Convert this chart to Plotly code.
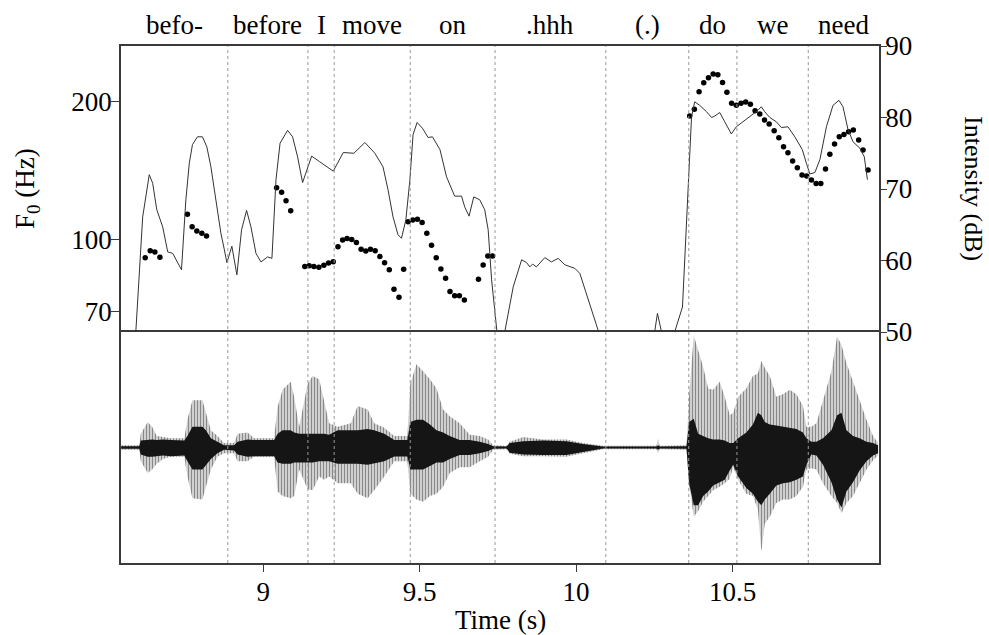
import math
import plotly.graph_objects as go

# word tier: boundaries (s) and labels
bounds = [8.5457, 8.887, 9.143, 9.227, 9.470, 9.741, 10.095, 10.360, 10.514, 10.742, 10.968]
words = ["befo-", "before", "I", "move", "on", ".hhh", "(.)", "do", "we", "need"]

# intensity contour (dB)
int_t = [8.575, 8.593, 8.615, 8.636, 8.647, 8.660, 8.679, 8.695, 8.711, 8.721,
         8.739, 8.753, 8.764, 8.774, 8.790, 8.806, 8.820, 8.833, 8.849, 8.865,
         8.876, 8.884, 8.900, 8.916, 8.931, 8.947, 8.961, 8.977, 8.993, 9.014,
         9.028, 9.041, 9.054, 9.078, 9.094, 9.110, 9.126, 9.136, 9.155, 9.181,
         9.208, 9.224, 9.256, 9.290, 9.325, 9.357, 9.383, 9.399, 9.415, 9.431,
         9.442, 9.456, 9.469, 9.479, 9.492, 9.509, 9.527, 9.541, 9.565, 9.586,
         9.612, 9.634, 9.644, 9.658, 9.673, 9.692, 9.708, 9.719, 9.730, 9.746,
         9.759, 9.772, 9.799, 9.826, 9.842, 9.852, 9.861, 9.873, 9.900, 9.921,
         9.943, 9.964, 9.996, 10.012, 10.044, 10.070, 10.160, 10.251, 10.260, 10.273,
         10.290, 10.315, 10.340, 10.355, 10.369, 10.379, 10.395, 10.417, 10.433, 10.443,
         10.459, 10.475, 10.496, 10.512, 10.534, 10.560, 10.581, 10.592, 10.603, 10.619,
         10.640, 10.656, 10.677, 10.699, 10.723, 10.736, 10.747, 10.763, 10.779, 10.800,
         10.821, 10.840, 10.853, 10.869, 10.885, 10.907, 10.921, 10.931]
int_db = [40, 50, 66.1, 72.0, 70.8, 67.1, 64.7, 61.2, 61.0, 60.1,
          58.7, 68.5, 73.6, 76.2, 77.3, 77.3, 75.9, 73.1, 68.5, 63.8,
          61.5, 59.7, 62.0, 58.0, 64.3, 67.0, 64.7, 61.0, 59.8, 60.5,
          60.3, 71.3, 76.4, 78.2, 77.3, 74.5, 70.9, 72.2, 74.6, 73.8,
          72.9, 72.5, 75.1, 75.0, 76.5, 75.0, 73.1, 69.9, 66.1, 63.6,
          63.1, 65.7, 71.3, 77.6, 79.3, 78.5, 77.2, 77.3, 75.5, 71.7,
          69.0, 69.0, 67.5, 66.2, 68.9, 68.5, 67.1, 64.3, 57.3, 50.3,
          45, 50, 56.3, 60.1, 59.7, 59.1, 59.5, 59.1, 60.4, 59.8,
          60.3, 59.4, 58.9, 58.2, 54.0, 50.3, 40, 50, 52.6, 50,
          45, 50, 53.5, 67.5, 80.1, 82.2, 81.7, 80.8, 80.0, 80.2,
          80.7, 79.4, 77.7, 78.7, 79.4, 80.3, 81.0, 81.5, 80.8, 80.0,
          79.4, 78.6, 78.7, 77.3, 75.5, 73.6, 72.1, 72.3, 74.1, 78.7,
          81.7, 82.4, 81.5, 78.3, 76.6, 75.7, 74.5, 71.3]

# pitch points (Hz)
f0_t = [8.623, 8.639, 8.654, 8.670, 8.758, 8.773, 8.788, 8.804, 8.819,
        9.043, 9.059, 9.073, 9.088, 9.133, 9.147, 9.162, 9.178, 9.194, 9.209, 9.224,
        9.239, 9.254, 9.268, 9.283, 9.298, 9.313, 9.328, 9.343, 9.358, 9.373,
        9.388, 9.403, 9.418, 9.434, 9.449, 9.463, 9.478, 9.493, 9.508, 9.523,
        9.538, 9.553, 9.568, 9.583, 9.597, 9.612, 9.627, 9.643, 9.688, 9.703,
        9.718, 9.733,
        10.363, 10.378, 10.393, 10.408, 10.423, 10.438, 10.453, 10.468, 10.482, 10.497,
        10.512, 10.527, 10.542, 10.557, 10.572, 10.587, 10.602, 10.617, 10.633, 10.648,
        10.663, 10.677, 10.692, 10.707, 10.722, 10.737, 10.752, 10.767, 10.782, 10.797,
        10.811, 10.826, 10.841, 10.856, 10.871, 10.886, 10.903, 10.917, 10.933]
f0_hz = [91.5, 94.8, 94.2, 91.7, 113.8, 106.9, 104.6, 103.4, 102.0,
         130.0, 127.0, 121.8, 115.8, 87.5, 87.9, 87.5, 87.2, 88.1, 89.1, 89.7,
         96.7, 100.0, 100.8, 100.3, 98.7, 95.4, 94.6, 95.4, 94.8, 92.0,
         89.2, 86.1, 78.1, 75.0, 86.3, 109.6, 110.5, 110.9, 109.1, 103.4,
         97.4, 91.5, 86.5, 82.5, 77.2, 75.6, 75.6, 74.0, 82.1, 88.2,
         92.3, 92.3,
         186.2, 192.5, 210.3, 219.9, 225.6, 229.8, 229.0, 220.3, 209.7, 198.4,
         196.4, 198.4, 199.7, 197.4, 191.2, 188.0, 182.5, 178.9, 172.9, 167.0,
         159.6, 154.8, 148.6, 143.6, 138.5, 137.8, 135.1, 132.8, 132.8, 142.7,
         153.7, 161.8, 167.8, 169.6, 172.0, 173.5, 165.1, 157.0, 142.0]

# waveform envelope (outer peaks and dense core), relative amplitude
wave_t = [8.546, 8.604, 8.609, 8.631, 8.645, 8.660, 8.680, 8.705, 8.748, 8.758,
          8.774, 8.806, 8.817, 8.833, 8.854, 8.875, 8.907, 8.918, 8.950, 8.971,
          9.035, 9.046, 9.062, 9.088, 9.099, 9.115, 9.142, 9.158, 9.179, 9.195,
          9.211, 9.238, 9.280, 9.302, 9.334, 9.355, 9.387, 9.419, 9.461, 9.470,
          9.490, 9.511, 9.533, 9.554, 9.575, 9.596, 9.628, 9.660, 9.692, 9.719,
          9.735, 9.778, 9.788, 9.831, 9.895, 9.969, 10.022, 10.086, 10.257, 10.262,
          10.267, 10.353, 10.361, 10.376, 10.390, 10.406, 10.422, 10.438, 10.459, 10.475,
          10.491, 10.502, 10.518, 10.544, 10.565, 10.581, 10.592, 10.603, 10.619, 10.640,
          10.661, 10.683, 10.704, 10.725, 10.736, 10.752, 10.768, 10.789, 10.816, 10.834,
          10.848, 10.864, 10.885, 10.906, 10.928, 10.949, 10.965]
wave_hi = [0.02, 0.02, 0.12, 0.22, 0.18, 0.10, 0.09, 0.08, 0.08, 0.24,
           0.41, 0.41, 0.30, 0.15, 0.10, 0.04, 0.04, 0.12, 0.13, 0.08,
           0.08, 0.35, 0.50, 0.57, 0.44, 0.18, 0.55, 0.62, 0.59, 0.41,
           0.21, 0.18, 0.21, 0.36, 0.33, 0.21, 0.17, 0.10, 0.10, 0.55,
           0.72, 0.66, 0.59, 0.51, 0.33, 0.27, 0.21, 0.11, 0.10, 0.07,
           0.02, 0.015, 0.05, 0.09, 0.07, 0.07, 0.04, 0.015, 0.015, 0.08,
           0.015, 0.02, 0.44, 0.97, 0.85, 0.70, 0.51, 0.50, 0.57, 0.44,
           0.28, 0.30, 0.44, 0.51, 0.62, 0.64, 0.75, 0.69, 0.62, 0.44,
           0.46, 0.50, 0.46, 0.36, 0.18, 0.18, 0.21, 0.41, 0.66, 0.96,
           0.89, 0.73, 0.56, 0.41, 0.24, 0.10, 0.04]
wave_lo = [-0.02, -0.02, -0.12, -0.22, -0.19, -0.14, -0.10, -0.08, -0.08, -0.25,
           -0.44, -0.45, -0.34, -0.19, -0.08, -0.05, -0.05, -0.12, -0.12, -0.08,
           -0.08, -0.38, -0.42, -0.44, -0.42, -0.19, -0.36, -0.37, -0.25, -0.28,
           -0.25, -0.31, -0.31, -0.40, -0.44, -0.37, -0.25, -0.12, -0.12, -0.40,
           -0.45, -0.47, -0.42, -0.40, -0.34, -0.22, -0.17, -0.17, -0.12, -0.08,
           -0.02, -0.015, -0.055, -0.075, -0.075, -0.08, -0.05, -0.015, -0.015, -0.05,
           -0.015, -0.02, -0.31, -0.60, -0.55, -0.47, -0.42, -0.37, -0.34, -0.31,
           -0.27, -0.17, -0.28, -0.40, -0.42, -0.54, -0.90, -0.66, -0.60, -0.48,
           -0.45, -0.45, -0.42, -0.34, -0.19, -0.18, -0.19, -0.31, -0.42, -0.48,
           -0.57, -0.48, -0.42, -0.31, -0.19, -0.11, -0.07]
core_hi = [0.01, 0.01, 0.06, 0.07, 0.07, 0.066, 0.07, 0.066, 0.06, 0.10,
           0.18, 0.18, 0.15, 0.08, 0.05, 0.02, 0.02, 0.05, 0.07, 0.066,
           0.066, 0.12, 0.15, 0.15, 0.13, 0.12, 0.12, 0.12, 0.12, 0.12,
           0.11, 0.15, 0.15, 0.15, 0.16, 0.15, 0.12, 0.066, 0.066, 0.22,
           0.24, 0.24, 0.20, 0.15, 0.13, 0.10, 0.066, 0.066, 0.05, 0.03,
           0.01, 0.008, 0.04, 0.055, 0.06, 0.055, 0.03, 0.008, 0.008, 0.02,
           0.008, 0.01, 0.22, 0.25, 0.12, 0.10, 0.08, 0.07, 0.07, 0.06,
           0.04, 0.04, 0.08, 0.13, 0.20, 0.30, 0.28, 0.22, 0.20, 0.19,
           0.18, 0.17, 0.16, 0.13, 0.08, 0.05, 0.05, 0.08, 0.15, 0.28,
           0.30, 0.15, 0.10, 0.08, 0.05, 0.04, 0.02]
core_lo = [-0.01, -0.01, -0.06, -0.08, -0.08, -0.078, -0.07, -0.075, -0.07, -0.12,
           -0.19, -0.19, -0.15, -0.10, -0.05, -0.02, -0.025, -0.06, -0.08, -0.075,
           -0.075, -0.13, -0.14, -0.14, -0.13, -0.13, -0.13, -0.13, -0.12, -0.12,
           -0.12, -0.14, -0.14, -0.14, -0.15, -0.14, -0.12, -0.078, -0.078, -0.19,
           -0.19, -0.19, -0.16, -0.13, -0.13, -0.10, -0.064, -0.064, -0.05, -0.03,
           -0.01, -0.008, -0.045, -0.06, -0.065, -0.065, -0.04, -0.008, -0.008, -0.02,
           -0.008, -0.01, -0.31, -0.50, -0.50, -0.42, -0.38, -0.33, -0.30, -0.28,
           -0.20, -0.15, -0.25, -0.35, -0.40, -0.47, -0.50, -0.45, -0.40, -0.33,
           -0.31, -0.30, -0.28, -0.25, -0.15, -0.06, -0.07, -0.15, -0.30, -0.45,
           -0.52, -0.38, -0.30, -0.20, -0.12, -0.07, -0.05]

serif = "Liberation Serif, Times New Roman, serif"
frame = "#3a3a3a"
split = 231 / 517
fsize = 27

fig = go.Figure()

# waveform (bottom panel): outer peaks as striped fill, dense core in black
fig.add_trace(go.Scatter(x=wave_t, y=wave_lo, mode="lines", line=dict(width=0, color="#222"),
                         xaxis="x", yaxis="y3", showlegend=False, hoverinfo="skip"))
fig.add_trace(go.Scatter(x=wave_t, y=wave_hi, mode="lines", line=dict(width=0, color="#222"),
                         fill="tonexty", fillcolor="rgba(0,0,0,0)",
                         fillpattern=dict(shape="|", fgcolor="#111", bgcolor="white", size=3, solidity=0.6),
                         xaxis="x", yaxis="y3", showlegend=False, hoverinfo="skip"))
fig.add_trace(go.Scatter(x=wave_t, y=core_lo, mode="lines", line=dict(width=0, color="black"),
                         xaxis="x", yaxis="y3", showlegend=False, hoverinfo="skip"))
fig.add_trace(go.Scatter(x=wave_t, y=core_hi, mode="lines", line=dict(width=0, color="black"),
                         fill="tonexty", fillcolor="#151515",
                         xaxis="x", yaxis="y3", showlegend=False, hoverinfo="skip"))

# intensity (top panel, right axis)
fig.add_trace(go.Scatter(x=int_t, y=int_db, mode="lines", line=dict(color="#333", width=1),
                         xaxis="x2", yaxis="y2", showlegend=False))
# F0 (top panel, left log axis)
fig.add_trace(go.Scatter(x=f0_t, y=f0_hz, mode="markers", marker=dict(color="black", size=5.5),
                         xaxis="x2", yaxis="y", showlegend=False))

# word boundaries
for b in bounds[1:-1]:
    fig.add_shape(type="line", xref="x", yref="paper", x0=b, x1=b, y0=0, y1=1,
                  line=dict(color="#999", width=1, dash="dot"))

label_font = dict(family=serif, size=fsize, color="black")
annotations = []
for i, w in enumerate(words):
    annotations.append(dict(x=(bounds[i] + bounds[i + 1]) / 2, y=1.0406, xref="x", yref="paper",
                             text=w, showarrow=False, xanchor="center", yanchor="middle", font=label_font))
annotations.append(dict(x=-0.124, y=0.7234, xref="paper", yref="paper", text="F<sub>0</sub> (Hz)",
                        textangle=-90, showarrow=False, xanchor="center", yanchor="middle", font=label_font))
annotations.append(dict(x=1.1253, y=0.7234, xref="paper", yref="paper", text="Intensity (dB)",
                        textangle=90, showarrow=False, xanchor="center", yanchor="middle",
                        font=dict(family=serif, size=26, color="black")))
annotations.append(dict(x=0.5, y=-0.110, xref="paper", yref="paper", text="Time (s)",
                        showarrow=False, xanchor="center", yanchor="middle", font=label_font))

xr = [bounds[0], bounds[-1]]

fig.update_layout(
    width=989, height=635,
    margin=dict(l=121, r=110, t=46, b=72),
    paper_bgcolor="white", plot_bgcolor="white",
    showlegend=False,
    annotations=annotations,
    xaxis=dict(domain=[0, 1], anchor="y3", range=xr, tickvals=[9, 9.5, 10, 10.5],
               ticktext=["9", "9.5", "10", "10.5"], ticks="outside", ticklen=7, tickcolor=frame,
               ticklabelstandoff=-3,
               showline=True, linecolor=frame, linewidth=1.5, mirror=True, showgrid=False,
               zeroline=False, tickfont=label_font),
    xaxis2=dict(domain=[0, 1], anchor="y", matches="x", range=xr, showticklabels=False, ticks="",
                side="top", showline=True, linecolor=frame, linewidth=1.5, mirror=False,
                showgrid=False, zeroline=False),
    yaxis=dict(domain=[split, 1], anchor="x2", type="log",
               range=[math.log10(63.05), math.log10(264.4)], tickvals=[70, 100, 200],
               ticktext=["70", "100", "200"], ticks="outside", ticklen=8, tickcolor=frame,
               ticklabelstandoff=-6,
               showline=True, linecolor=frame, linewidth=1.5, mirror=True, showgrid=False,
               zeroline=False, tickfont=label_font),
    yaxis2=dict(anchor="x2", overlaying="y", side="right", range=[50, 90],
                tickvals=[50, 60, 70, 80, 90], ticks="outside", ticklen=6, tickcolor=frame,
                ticklabelstandoff=-7,
                showline=True, linecolor=frame, linewidth=1.5, showgrid=False, zeroline=False,
                tickfont=label_font),
    yaxis3=dict(domain=[0, split], anchor="x", range=[-1, 1], showticklabels=False, ticks="",
                showline=True, linecolor=frame, linewidth=1.5, mirror=True, showgrid=False,
                zeroline=False),
)

fig.write_html("out.html", config={"displayModeBar": False},
               post_script="document.body.style.margin='0';")
